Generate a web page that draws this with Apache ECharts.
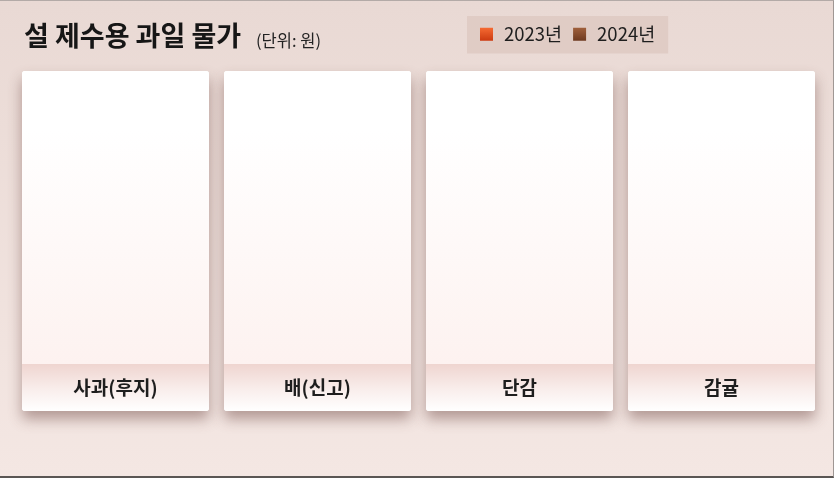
<!DOCTYPE html>
<html>
<head>
<meta charset="utf-8">
<script src="https://cdn.jsdelivr.net/npm/echarts@6/dist/echarts.min.js"></script>
<style>
  html, body { margin: 0; padding: 0; background: #efe2dd; }
  #chart { width: 834px; height: 478px; box-sizing: border-box; border-top: 1px solid #b3aaa7; border-right: 1px solid #9f9794; border-bottom: 2px solid #5a5654; }
</style>
</head>
<body>
<div id="chart"></div>
<script>
// data
var fruits = ['사과(후지)', '배(신고)', '단감', '감귤'];
var years = ['2023년', '2024년'];
// no bars are drawn in the reference, so every value is empty
var price2023 = [null, null, null, null];
var price2024 = [null, null, null, null];

(function() {
  var font = '"Noto Sans CJK KR", "Noto Sans", sans-serif';
  var cardLeft = [22, 224, 426, 628];
  var cardW = 187, cardTop = 70, plotBottom = 363, cardBottom = 410;

  var c2023 = new echarts.graphic.LinearGradient(0, 0, 0, 1, [{ offset: 0, color: '#f56a32' }, { offset: 1, color: '#cc3a10' }]);
  var c2024 = new echarts.graphic.LinearGradient(0, 0, 0, 1, [{ offset: 0, color: '#a0603c' }, { offset: 1, color: '#6e3a20' }]);

  var grids = [], xAxes = [], yAxes = [], series = [], graphics = [];
  fruits.forEach(function(name, i) {
    grids.push({ left: cardLeft[i] + 20, width: cardW - 40, top: cardTop + 20, height: plotBottom - cardTop - 20 });
    xAxes.push({
      gridIndex: i, type: 'category', data: [name],
      axisLine: { show: false }, axisTick: { show: false },
      axisLabel: { margin: 14, color: '#1e1e1e', fontSize: 19, fontWeight: 'bold', fontFamily: font }
    });
    yAxes.push({ gridIndex: i, type: 'value', show: false, min: 0 });
    series.push({ name: years[0], type: 'bar', xAxisIndex: i, yAxisIndex: i, data: [price2023[i]], itemStyle: { color: c2023 }, barWidth: 40 });
    series.push({ name: years[1], type: 'bar', xAxisIndex: i, yAxisIndex: i, data: [price2024[i]], itemStyle: { color: c2024 }, barWidth: 40 });

    // card body
    graphics.push({
      type: 'rect', z: -10,
      shape: { x: cardLeft[i], y: cardTop, width: cardW, height: cardBottom - cardTop, r: 3 },
      style: {
        fill: '#ffffff', shadowBlur: 14, shadowOffsetY: 8, shadowOffsetX: 0,
        shadowColor: 'rgba(100, 60, 55, 0.45)'
      }
    });
    graphics.push({
      type: 'rect', z: -9,
      shape: { x: cardLeft[i], y: cardTop, width: cardW, height: plotBottom - cardTop, r: [3, 3, 0, 0] },
      style: {
        fill: new echarts.graphic.LinearGradient(0, 0, 0, 1, [
          { offset: 0, color: '#ffffff' }, { offset: 0.2, color: '#ffffff' }, { offset: 1, color: '#fdf2f0' }
        ])
      }
    });
    // label band
    graphics.push({
      type: 'rect', z: -9,
      shape: { x: cardLeft[i], y: plotBottom, width: cardW, height: cardBottom - plotBottom, r: [0, 0, 3, 3] },
      style: {
        fill: new echarts.graphic.LinearGradient(0, 0, 0, 1, [
          { offset: 0, color: '#efd5d0' }, { offset: 0.55, color: '#f9eeec' }, { offset: 1, color: '#ffffff' }
        ])
      }
    });
  });

  var chart = echarts.init(document.getElementById('chart'), null, { renderer: 'canvas' });
  chart.setOption({
    animation: false,
    backgroundColor: new echarts.graphic.LinearGradient(0, 0, 0, 1, [
      { offset: 0, color: '#e9d9d4' }, { offset: 1, color: '#f4e7e3' }
    ]),
    title: [{
      text: '설 제수용 과일 물가',
      left: 19, top: 16,
      textStyle: { fontFamily: font, fontSize: 27, fontWeight: 'bold', color: '#161616' }
    }, {
      text: '(단위: 원)',
      left: 251, top: 26,
      textStyle: { fontFamily: font, fontSize: 16.5, fontWeight: 'normal', color: '#222' }
    }],
    legend: {
      data: years,
      left: 467, top: 15,
      padding: [9, 13, 10, 13],
      backgroundColor: '#e0ccc5',
      icon: 'rect', itemWidth: 13, itemHeight: 13, itemGap: 11,
      textStyle: { fontFamily: font, fontSize: 18.5, color: '#1e1e1e', padding: [0, 0, 0, 6] }
    },
    grid: grids,
    xAxis: xAxes,
    yAxis: yAxes,
    series: series,
    graphic: graphics
  });
})();
</script>
</body>
</html>
